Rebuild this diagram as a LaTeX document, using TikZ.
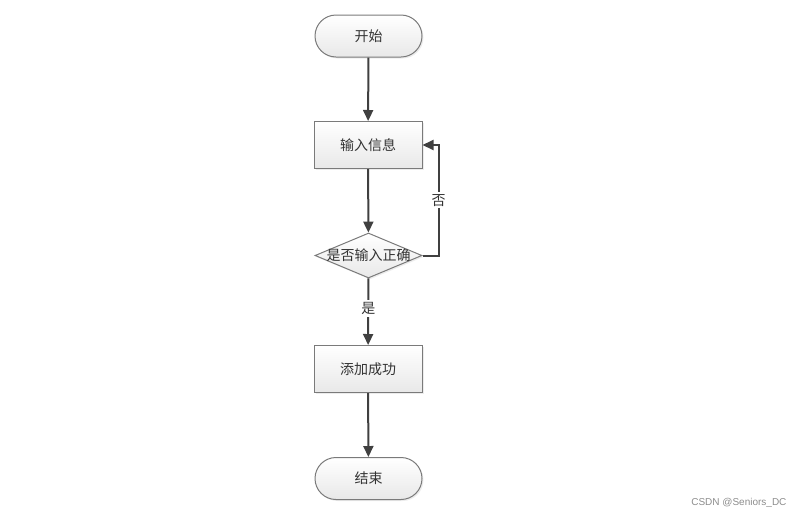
\documentclass[tikz,border=0pt]{standalone}
\usepackage{fontspec}
\setmainfont{Liberation Sans}
\newfontfamily\cjk{Noto Sans CJK SC}
\usetikzlibrary{shapes.geometric,shapes.misc,arrows.meta,shadows}
\definecolor{linec}{HTML}{404040}
\definecolor{bordc}{HTML}{7A7A7A}
\tikzset{
  x=1pt,y=-1pt,
  base/.style={draw=bordc,line width=1pt,top color=white,bottom color=black!9,
    font=\cjk\fontsize{14}{14}\selectfont,text=black!80,inner sep=0pt,
    drop shadow={shadow xshift=1.5pt,shadow yshift=-1.5pt,opacity=0.15}},
  term/.style={base,rounded rectangle,minimum width=107pt,minimum height=42pt},
  proc/.style={base,rectangle,minimum width=108pt,minimum height=47pt},
  deci/.style={base,diamond,aspect=2.4,minimum width=107pt,minimum height=45pt},
  conn/.style={draw=linec,line width=2pt,-{Triangle[length=11pt,width=10pt]}},
  lab/.style={fill=white,font=\cjk\fontsize{14}{14}\selectfont,text=black!80,inner sep=2pt}
}
\begin{document}
\begin{tikzpicture}
\useasboundingbox (0,0) rectangle (800,515);
\node[term] (start) at (368.5,36) {开始};
\node[proc] (input) at (368,145) {输入信息};
\node[deci] (check) at (368.5,255.5) {\makebox[0pt]{是否输入正确}};
\node[proc] (add) at (368,369) {添加成功};
\node[term] (end) at (368.5,478.5) {结束};
\draw[conn] (start) -- (input);
\draw[conn] (input) -- (check);
\draw[conn] (check) -- node[lab,pos=0.45] {是} (add);
\draw[conn] (add) -- (end);
\draw[conn] (check.east) -- ++(16,0) coordinate (c1) |- node[lab,pos=0.25] {否} (input.east);
\node[font=\fontsize{10}{10}\selectfont,text=black!45,anchor=east] (wm) at (790,503) {CSDN @Seniors\_DC};
\end{tikzpicture}
\end{document}
